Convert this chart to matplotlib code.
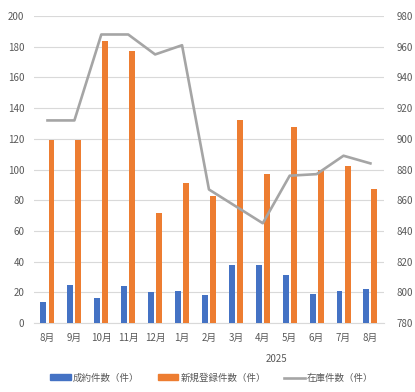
import matplotlib
matplotlib.use("Agg")
import matplotlib.pyplot as plt
import matplotlib.transforms as mtransforms
from matplotlib.lines import Line2D
from matplotlib.patches import Patch
import numpy as np

plt.rcParams['font.family'] = ['Noto Sans CJK JP', 'DejaVu Sans']

# ── data ─────────────────────────────────────────────────────────────────────
months = ["8月", "9月", "10月", "11月", "12月", "1月", "2月",
          "3月", "4月", "5月", "6月", "7月", "8月"]
year_label = "2025"
year_start = 5          # index of 1月 (first month of 2025)
contracts = [14, 25, 16, 24, 20, 21, 18, 38, 38, 31, 19, 21, 22]
new_listings = [119, 119, 184, 177, 72, 91, 83, 132, 97, 128, 100, 102, 87]
inventory = [912, 912, 968, 968, 955, 961, 867, 856, 845, 876, 877, 889, 884]

labels = ["成約件数（件）", "新規登録件数（件）", "在庫件数（件）"]
c_blue, c_orange, c_gray = "#4472C4", "#ED7D31", "#A5A5A5"
txt = "#595959"
grid_c = "#D9D9D9"

# ── figure ───────────────────────────────────────────────────────────────────
fig = plt.figure(figsize=(4.15, 3.92), dpi=100)
ax = fig.add_axes([0.082, 0.176, 0.843, 0.783])
ax2 = ax.twinx()

x = np.arange(len(months))
w = 0.22
ax.bar(x - 0.15, contracts, width=w, color=c_blue, zorder=3)
ax.bar(x + 0.15, new_listings, width=w, color=c_orange, zorder=3)
ax2.plot(x, inventory, color=c_gray, linewidth=1.9, zorder=4)

ax.set_xlim(-0.5, len(months) - 0.5)
ax.set_ylim(0, 200)
ax.set_yticks(range(0, 201, 20))
ax2.set_ylim(780, 980)
ax2.set_yticks(range(780, 981, 20))

ax.grid(axis='y', color=grid_c, linewidth=0.8, zorder=0)
ax.set_axisbelow(True)
ax.set_xticks(x)
ax.set_xticklabels(months)

for a in (ax, ax2):
    for s in a.spines.values():
        s.set_visible(False)
    a.tick_params(length=0, labelsize=7, colors=txt)
ax.spines['bottom'].set_visible(True)
ax.spines['bottom'].set_color(grid_c)
ax.tick_params(axis='x', pad=7)
ax.tick_params(axis='y', pad=7)
ax2.tick_params(axis='y', pad=9)

# year group label
trans = mtransforms.blended_transform_factory(ax.transData, ax.transAxes)
ax.text((year_start + len(months) - 1) / 2, -0.117, year_label,
        transform=trans, ha='center', va='center', fontsize=7, color=txt)

handles = [Patch(color=c_blue), Patch(color=c_orange),
           Line2D([0], [0], color=c_gray, linewidth=1.9)]
fig.legend(handles, labels, loc='center', bbox_to_anchor=(0.51, 0.036),
           ncol=3, frameon=False, fontsize=6.8, labelcolor=txt,
           handlelength=2.2, handleheight=0.55, handletextpad=0.2,
           columnspacing=1.95)

fig.savefig("out.png", dpi=100, facecolor="white")
